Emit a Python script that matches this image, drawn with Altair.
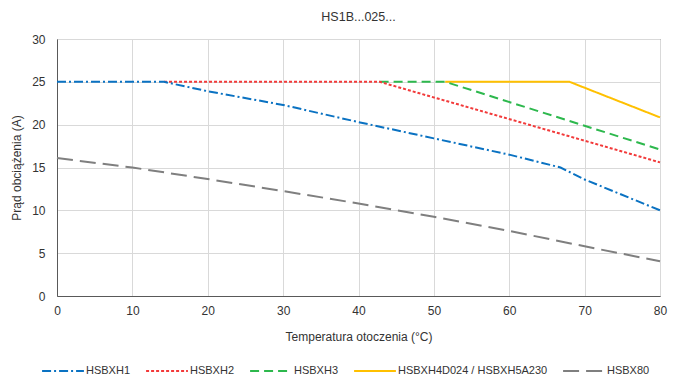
import altair as alt
import pandas as pd

series_names = ["HSBXH1", "HSBXH2", "HSBXH3", "HSBXH4D024 / HSBXH5A230", "HSBX80"]
series_colors = ["#0A72C2", "#F23A3A", "#2DB84D", "#FFC000", "#7F7F7F"]
series_dashes = [[9, 3, 2, 3], [3, 2], [9, 5], [1, 0], [16, 7]]

h1_x = [0, 14.2, 20, 30, 40, 50, 60, 66.8, 70, 80]
h1_y = [25, 25, 23.9, 22.3, 20.3, 18.4, 16.5, 15.0, 13.6, 10.0]

h2_x = [14.2, 42.8, 80]
h2_y = [25, 25, 15.6]

h3_x = [42.8, 51.5, 80]
h3_y = [25, 25, 17.1]

h4_x = [51.5, 68, 80]
h4_y = [25, 25, 20.85]

h80_x = [0, 10, 20, 30, 40, 50, 60, 70, 80]
h80_y = [16.1, 15.0, 13.65, 12.25, 10.8, 9.25, 7.6, 5.8, 4.05]

xs = [h1_x, h2_x, h3_x, h4_x, h80_x]
ys = [h1_y, h2_y, h3_y, h4_y, h80_y]

rows = []
for name, sx, sy in zip(series_names, xs, ys):
    for a, b in zip(sx, sy):
        rows.append({"series": name, "t": a, "i": b})
df = pd.DataFrame(rows)

color_scale = alt.Scale(domain=series_names, range=series_colors)
dash_scale = alt.Scale(domain=series_names, range=series_dashes)

legend = alt.Legend(
    title=None, orient="none", direction="horizontal",
    legendX=-16, legendY=310,
    symbolType="stroke", symbolSize=1750, symbolStrokeWidth=2,
    labelFont="Liberation Sans", labelFontSize=11, labelColor="#333333",
    labelOffset=1, columnPadding=11, labelLimit=300,
)

def layer_for(name):
    return alt.Chart(df).transform_filter(alt.datum.series == name).mark_line(strokeWidth=2).encode(
        x=alt.X("t:Q", scale=alt.Scale(domain=[0, 80], nice=False),
                axis=alt.Axis(values=[0, 10, 20, 30, 40, 50, 60, 70, 80], labelFlush=False,
                              title="Temperatura otoczenia (°C)")),
        y=alt.Y("i:Q", scale=alt.Scale(domain=[0, 30], nice=False),
                axis=alt.Axis(values=[0, 5, 10, 15, 20, 25, 30], labelFlush=False,
                              title="Prąd obciążenia (A)")),
        color=alt.Color("series:N", scale=color_scale, legend=legend, sort=series_names),
        strokeDash=alt.StrokeDash("series:N", scale=dash_scale, legend=legend, sort=series_names),
    )

order = ["HSBX80", "HSBXH4D024 / HSBXH5A230", "HSBXH3", "HSBXH2", "HSBXH1"]
chart = alt.layer(*[layer_for(n) for n in order]).properties(
    width=603, height=257,
    autosize=alt.AutoSizeParams(type="none"),
    padding={"left": 57, "top": 39, "right": 18, "bottom": 87},
    title=alt.TitleParams("HS1B...025...", font="Liberation Sans", fontSize=12.5,
                          fontWeight="normal", color="#333333", offset=10),
    background="white",
).configure_view(
    stroke="#595959", strokeWidth=1
).configure_axis(
    labelFont="Liberation Sans", labelFontSize=12, labelColor="#333333",
    titleFont="Liberation Sans", titleFontSize=12, titleFontWeight="normal", titleColor="#333333",
    grid=True, gridColor="#d9d9d9", gridWidth=1,
    ticks=False, domainColor="#595959", domainWidth=1,
).configure_axisX(
    labelPadding=9, titlePadding=15,
).configure_axisY(
    labelPadding=12, titlePadding=8,
)

chart.save("out.html", embed_options={"renderer": "svg", "actions": False})
